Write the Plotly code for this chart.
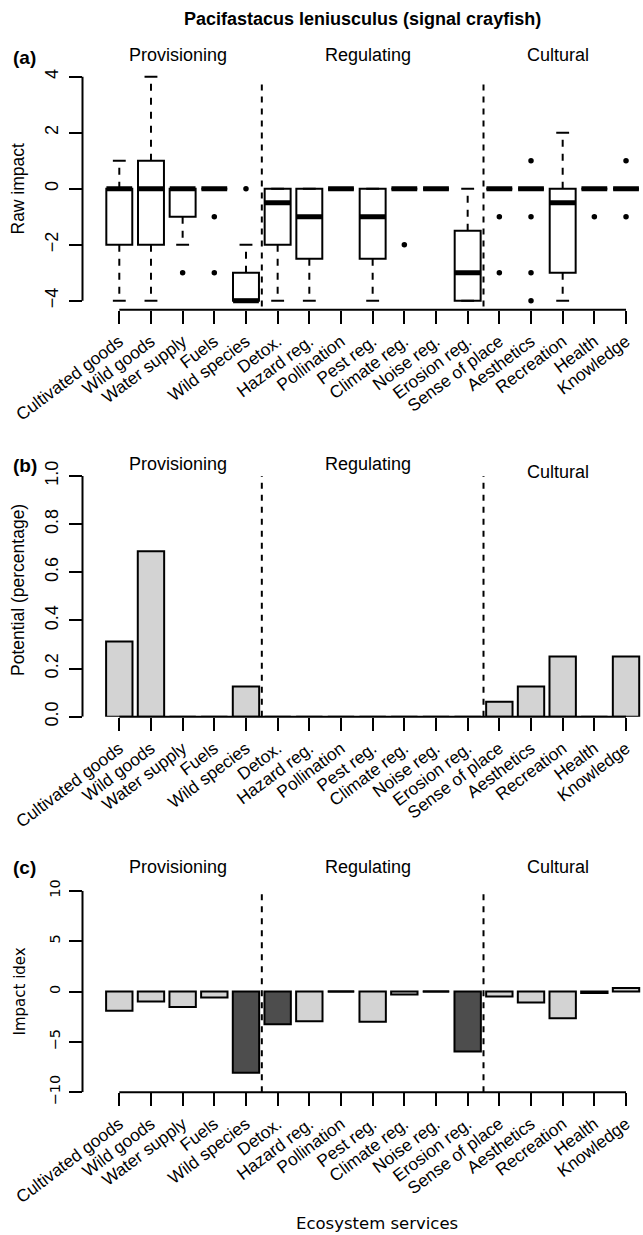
import plotly.graph_objects as go

W, H = 643, 1235

categories = ["Cultivated goods", "Wild goods", "Water supply", "Fuels", "Wild species",
              "Detox.", "Hazard reg.", "Pollination", "Pest reg.", "Climate reg.",
              "Noise reg.", "Erosion reg.", "Sense of place", "Aesthetics", "Recreation",
              "Health", "Knowledge"]
groups = ["Provisioning", "Regulating", "Cultural"]
group_sizes = [5, 7, 5]

# (a) raw impact box statistics
raw_q1 = [-2, -2, -1, 0, -4, -2, -2.5, 0, -2.5, 0, 0, -4, 0, 0, -3, 0, 0]
raw_median = [0, 0, 0, 0, -4, -0.5, -1, 0, -1, 0, 0, -3, 0, 0, -0.5, 0, 0]
raw_q3 = [0, 1, 0, 0, -3, 0, 0, 0, 0, 0, 0, -1.5, 0, 0, 0, 0, 0]
raw_lower = [-4, -4, -2, 0, -4, -4, -4, 0, -4, 0, 0, -4, 0, 0, -4, 0, 0]
raw_upper = [1, 4, 0, 0, -2, 0, 0, 0, 0, 0, 0, 0, 0, 0, 2, 0, 0]
outlier_cat = ["Water supply", "Fuels", "Fuels", "Wild species", "Climate reg.",
               "Sense of place", "Sense of place", "Aesthetics", "Aesthetics",
               "Aesthetics", "Aesthetics", "Health", "Knowledge", "Knowledge"]
outlier_val = [-3, -1, -3, 0, -2, -1, -3, 1, -1, -3, -4, -1, 1, -1]

# (b) potential
potential = [0.3125, 0.6875, 0, 0, 0.125, 0, 0, 0, 0, 0, 0, 0, 0.0625, 0.125, 0.25, 0, 0.25]

# (c) impact index
impact = [-1.9, -1.0, -1.55, -0.6, -8.05, -3.25, -2.95, 0, -3.0, -0.3, 0, -5.95,
          -0.5, -1.1, -2.65, -0.15, 0.35]
impact_dark = ["Wild species", "Detox.", "Erosion reg."]

ARIAL = "Liberation Sans, Arial, Helvetica, sans-serif"
DEJAVU = "DejaVu Sans, Verdana, sans-serif"
LIGHT = "#d3d3d3"
DARK = "#4d4d4d"

n = len(categories)
idx = list(range(n))
pos = {c: i for i, c in enumerate(categories)}


def fx(px):
    return px / W


def fy(py):
    return 1 - py / H


# pixel geometry
cat0_px, step_px, left_px = 119.3, 31.67, 82.5
xr = [-(cat0_px - left_px) / step_px, (W - cat0_px) / step_px]
xdom = [fx(left_px), 1.0]

panels = {
    "a": dict(top=67.7, bottom=309.7, rng=[-4.32, 4.32]),
    "b": dict(top=476.0, bottom=716.7, rng=[0, 1]),
    "c": dict(top=890.7, bottom=1092.3, rng=[-10, 10]),
}

fig = go.Figure()

# ---- (a) boxes ----
fig.add_trace(go.Box(
    x=idx, q1=raw_q1, median=raw_median, q3=raw_q3,
    lowerfence=raw_q1, upperfence=raw_q3, width=0.82, whiskerwidth=0,
    fillcolor="white", line=dict(color="black", width=2), boxpoints=False,
    xaxis="x", yaxis="y", showlegend=False, hoverinfo="skip"))

wx, wy = [], []
for i in idx:
    if raw_upper[i] != raw_q3[i]:
        wx += [i, i, None]
        wy += [raw_q3[i], raw_upper[i], None]
    if raw_lower[i] != raw_q1[i]:
        wx += [i, i, None]
        wy += [raw_q1[i], raw_lower[i], None]
fig.add_trace(go.Scatter(x=wx, y=wy, mode="lines",
                         line=dict(color="black", width=2, dash="7px,7px"),
                         xaxis="x", yaxis="y", showlegend=False, hoverinfo="skip"))
fig.add_trace(go.Scatter(x=idx + idx, y=raw_upper + raw_lower, mode="markers",
                         marker=dict(symbol="line-ew", size=9.2,
                                     line=dict(color="black", width=2)),
                         xaxis="x", yaxis="y", showlegend=False, hoverinfo="skip"))
fig.add_trace(go.Scatter(x=idx, y=raw_median, mode="markers",
                         marker=dict(symbol="line-ew", size=18.4,
                                     line=dict(color="black", width=5)),
                         xaxis="x", yaxis="y", showlegend=False, hoverinfo="skip"))
fig.add_trace(go.Scatter(x=[pos[c] for c in outlier_cat], y=outlier_val, mode="markers",
                         marker=dict(symbol="circle", size=5.5, color="black"),
                         xaxis="x", yaxis="y", showlegend=False, hoverinfo="skip"))

# ---- (b) bars ----
fig.add_trace(go.Bar(x=idx, y=potential, width=0.833,
                     marker=dict(color=LIGHT, line=dict(color="black", width=2)),
                     xaxis="x2", yaxis="y2", showlegend=False, hoverinfo="skip"))

# ---- (c) bars ----
fig.add_trace(go.Bar(x=idx, y=impact, width=0.833,
                     marker=dict(color=[DARK if c in impact_dark else LIGHT for c in categories],
                                 line=dict(color="black", width=2)),
                     xaxis="x3", yaxis="y3", showlegend=False, hoverinfo="skip"))
zero_idx = [i for i in idx if impact[i] == 0]
fig.add_trace(go.Scatter(x=zero_idx, y=[impact[i] for i in zero_idx], mode="markers",
                         marker=dict(symbol="line-ew", size=18.9,
                                     line=dict(color="black", width=2)),
                         xaxis="x3", yaxis="y3", showlegend=False, hoverinfo="skip"))

# axes
layout_axes = {}
for k, (key, p) in enumerate(panels.items()):
    sfx = "" if k == 0 else str(k + 1)
    tickfont = dict(family=ARIAL, size=18, color="black")
    if key == "c":
        tickfont = dict(family=DEJAVU, size=14.5, color="black")
    if key == "a":
        yt = [-4, -2, 0, 2, 4]
    elif key == "b":
        yt = [0, 0.2, 0.4, 0.6, 0.8, 1.0]
    else:
        yt = [-10, -5, 0, 5, 10]
    layout_axes["xaxis" + sfx] = dict(
        domain=xdom, range=xr, anchor="y" + sfx, showgrid=False, zeroline=False,
        showline=False, ticks="outside", ticklen=13, tickwidth=2, tickcolor="black",
        tickmode="array", tickvals=idx, ticktext=categories, tickangle=-37,
        tickfont=dict(family=ARIAL, size=17.3, color="black"), fixedrange=True,
        automargin=False, ticklabelstandoff=1)
    layout_axes["yaxis" + sfx] = dict(
        domain=[fy(p["bottom"]), fy(p["top"])], range=p["rng"], anchor="x" + sfx,
        showgrid=False, zeroline=False, showline=False, ticks="outside", ticklen=13,
        tickwidth=2, tickcolor="black", tickmode="array", tickvals=yt,
        tickformat=".1f" if key == "b" else "d",
        tickangle=-90, tickfont=tickfont, fixedrange=True, automargin=False,
        ticklabelstandoff=3)

shapes = []
bounds = []
acc = 0
for s in group_sizes[:-1]:
    acc += s
    bounds.append(acc - 0.5)

for k, (key, p) in enumerate(panels.items()):
    sfx = "" if k == 0 else str(k + 1)
    ytv = layout_axes["yaxis" + sfx]["tickvals"]
    # R-style axis lines spanning the tick range
    shapes.append(dict(type="line", xref="x" + sfx + " domain", yref="y" + sfx,
                       x0=0, x1=0, y0=min(ytv), y1=max(ytv),
                       line=dict(color="black", width=2)))
    shapes.append(dict(type="line", xref="x" + sfx, yref="y" + sfx + " domain",
                       x0=idx[0], x1=idx[-1], y0=0, y1=0,
                       line=dict(color="black", width=2)))
    for b in bounds:
        if key == "a":
            shapes.append(dict(type="line", xref="x", yref="y", x0=b, x1=b,
                               y0=-4.21, y1=3.76,
                               line=dict(color="black", width=2, dash="6px,6px")))
        else:
            shapes.append(dict(type="line", xref="x" + sfx, yref="y" + sfx + " domain",
                               x0=b, x1=b, y0=0, y1=1,
                               line=dict(color="black", width=2, dash="6px,6px")))

annotations = []


def ann(text, x, y, size, family=ARIAL, bold=False, angle=0, xref="paper",
        xanchor="center", yanchor="middle"):
    annotations.append(dict(
        text=("<b>%s</b>" % text) if bold else text, x=x, y=y, xref=xref, yref="paper",
        xanchor=xanchor, yanchor=yanchor, showarrow=False, textangle=angle,
        borderpad=0, font=dict(family=family, size=size, color="black")))


ann("Pacifastacus leniusculus (signal crayfish)", fx(362.5), fy(19), 18, bold=True)

label_y = {"a": [55.5, 55.5, 55.5], "b": [463.5, 463.5, 471.5], "c": [866.5, 866.5, 866.5]}
panel_label_y = {"a": 57, "b": 465, "c": 867}
starts = [0]
for s in group_sizes[:-1]:
    starts.append(starts[-1] + s)
for k, key in enumerate(panels):
    sfx = "" if k == 0 else str(k + 1)
    ann("(%s)" % key, fx(12), fy(panel_label_y[key]), 19, bold=True, xanchor="left")
    for g, name in enumerate(groups):
        center = starts[g] + (group_sizes[g] - 1) / 2
        annotations.append(dict(
            text=name, x=center, y=fy(label_y[key][g]), xref="x" + sfx, yref="paper",
            xshift=-5, xanchor="center", yanchor="middle", showarrow=False, borderpad=0,
            font=dict(family=ARIAL, size=18, color="black")))

ann("Raw impact", fx(17.5), fy(189), 17.5, angle=-90)
ann("Potential (percentage)", fx(18.5), fy(590.5), 17.5, angle=-90)
ann("Impact idex", fx(19.5), fy(992), 15, family=DEJAVU, angle=-90)
ann("Ecosystem services", fx(376.6), fy(1234), 16.5, family=DEJAVU, yanchor="bottom")

fig.update_layout(
    width=W, height=H, autosize=False,
    margin=dict(l=0, r=0, t=0, b=0, pad=0),
    paper_bgcolor="white", plot_bgcolor="white", hovermode=False,
    shapes=shapes, annotations=annotations, bargap=0, **layout_axes)

fig.write_html("out.html",
               config={"displayModeBar": False, "staticPlot": True},
               post_script="document.body.style.margin='0px';"
                           "document.body.style.overflow='hidden';")
